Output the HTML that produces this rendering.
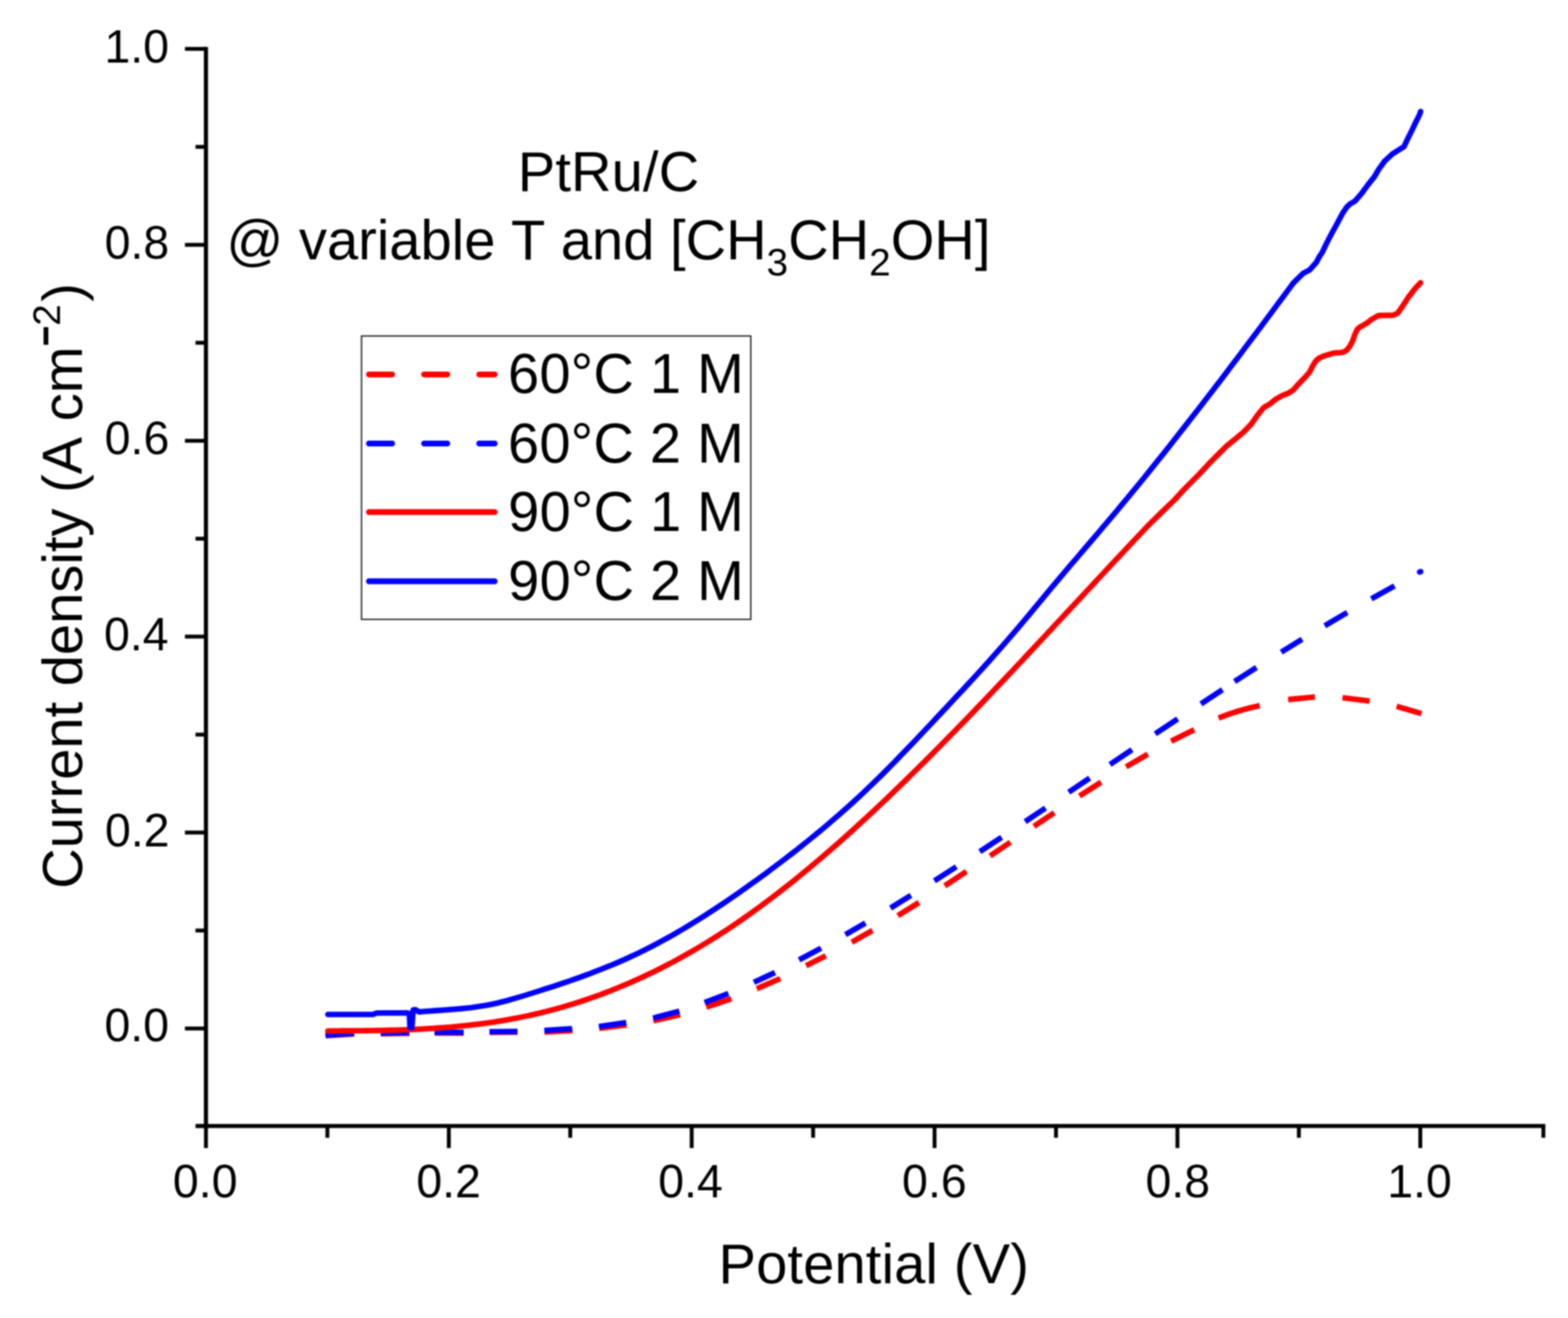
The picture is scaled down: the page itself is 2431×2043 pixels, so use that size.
<!DOCTYPE html>
<html lang="en">
<head>
<meta charset="utf-8">
<title>PtRu/C polarization curves at variable T and ethanol concentration</title>
<style>
html,body{margin:0;padding:0;background:#fff;}
body{width:2431px;height:2043px;overflow:hidden;position:relative;}
svg{display:block;position:absolute;left:0;top:0;filter:blur(0.9px);}
</style>
</head>
<body>
<svg xmlns="http://www.w3.org/2000/svg" width="2431" height="2043" viewBox="0 0 2431 2043">
<rect x="0" y="0" width="2431" height="2043" fill="#ffffff"/>
<g fill="none" stroke-width="8.6" stroke-linejoin="round" stroke-linecap="round">
<path d="M504.9,1605.5 L549.2,1602.7 M590.6,1602.4 L634.9,1601.7 M674.0,1601.2 L719.0,1601.4 M759.0,1600.3 L802.5,1600.0 M844.2,1599.7 L887.8,1597.5 M929.0,1594.0 L971.5,1588.7 M1013.0,1582.3 L1054.5,1572.9 M1095.0,1561.2 L1133.9,1548.2 M1173.3,1532.5 L1209.8,1516.9 M1249.7,1496.9 L1280.3,1481.6 M1320.6,1460.5 L1352.7,1442.3 M1392.0,1419.4 L1424.8,1399.0 M1464.7,1373.2 L1498.4,1350.9 M1535.0,1326.8 L1566.5,1305.5 M1603.0,1280.8 L1634.5,1259.8 M1673.6,1233.8 L1707.1,1212.5 M1745.9,1188.6 L1779.6,1169.0 M1815.7,1148.9 L1851.5,1131.2 M1889.2,1113.1 Q1918.8,1101.0 1953.1,1093.8 M1997.1,1084.4 L2038.7,1080.3 M2081.3,1081.6 L2123.5,1086.7 M2165.3,1094.8 L2203.8,1106.2" stroke="#ff0000" stroke-linecap="butt"/>
<path d="M504.6,1604.8 L549.0,1601.7 M590.1,1601.2 L634.2,1600.5 M673.6,1600.1 L718.7,1600.3 M758.8,1599.3 L802.1,1598.7 M843.9,1597.3 L886.9,1594.6 M928.5,1591.2 L970.9,1585.0 M1012.6,1578.1 L1053.3,1567.3 M1092.4,1553.9 L1129.3,1540.0 M1168.8,1522.7 L1201.5,1507.5 M1238.9,1487.9 L1273.0,1469.8 M1310.7,1448.8 L1341.7,1430.7 M1380.7,1407.5 L1412.3,1387.9 M1448.7,1365.4 L1482.7,1343.5 M1519.1,1320.1 L1552.9,1297.8 M1589.4,1273.6 L1620.9,1252.5 M1656.9,1228.0 L1689.4,1206.1 M1720.9,1185.0 L1755.0,1162.1 M1791.1,1137.5 L1825.9,1114.3 M1861.9,1091.1 L1895.3,1069.2 M1914.1,1056.4 L1948.0,1034.7 M1986.4,1010.9 L2018.8,990.8 M2053.9,970.0 L2088.8,949.4 M2126.1,928.2 L2162.0,908.3" stroke="#0000ff" stroke-linecap="butt"/>
<path d="M2200.9,886.6 L2202.7,886.1" stroke="#0000ff"/>
<path d="M508.3,1598.0 L515.8,1598.0 L523.3,1598.0 L530.9,1597.9 L538.4,1597.9 L545.9,1597.9 L553.4,1597.8 L561.0,1597.7 L568.5,1597.6 L576.0,1597.5 L583.5,1597.4 L591.1,1597.3 L598.6,1597.1 L606.1,1596.9 L613.6,1596.7 L621.2,1596.5 L628.7,1596.2 L636.2,1595.9 L643.7,1595.6 L651.3,1595.2 L658.8,1594.8 L666.3,1594.3 L673.8,1593.9 L681.4,1593.3 L688.9,1592.8 L696.4,1592.2 L703.9,1591.5 L711.5,1590.8 L719.0,1590.0 L726.5,1589.2 L734.0,1588.4 L741.6,1587.5 L749.1,1586.5 L756.6,1585.4 L764.1,1584.4 L771.7,1583.2 L779.2,1582.0 L786.7,1580.7 L794.2,1579.3 L801.8,1577.9 L809.3,1576.4 L816.8,1574.9 L824.3,1573.2 L831.9,1571.5 L839.4,1569.7 L846.9,1567.9 L854.4,1565.9 L862.0,1563.9 L869.5,1561.8 L877.0,1559.6 L884.5,1557.4 L892.1,1555.0 L899.6,1552.6 L907.1,1550.1 L914.6,1547.5 L922.2,1544.9 L929.7,1542.2 L937.2,1539.4 L944.7,1536.5 L952.3,1533.5 L959.8,1530.4 L967.3,1527.3 L974.8,1524.1 L982.4,1520.8 L989.9,1517.4 L997.4,1514.0 L1004.9,1510.4 L1012.5,1506.8 L1020.0,1503.1 L1027.5,1499.3 L1035.0,1495.4 L1042.6,1491.5 L1050.1,1487.4 L1057.6,1483.3 L1065.1,1479.1 L1072.7,1474.8 L1080.2,1470.4 L1087.7,1465.9 L1095.2,1461.4 L1102.8,1456.7 L1110.3,1452.0 L1117.8,1447.2 L1125.3,1442.3 L1132.9,1437.3 L1140.4,1432.2 L1147.9,1427.1 L1155.4,1421.8 L1163.0,1416.5 L1170.5,1411.1 L1178.0,1405.6 L1185.5,1400.0 L1193.1,1394.4 L1200.6,1388.7 L1208.1,1382.9 L1215.6,1377.0 L1223.2,1371.1 L1230.7,1365.1 L1238.2,1359.0 L1245.7,1352.8 L1253.3,1346.6 L1260.8,1340.3 L1268.3,1334.0 L1275.8,1327.6 L1283.4,1321.1 L1290.9,1314.5 L1298.4,1307.9 L1305.9,1301.3 L1313.5,1294.5 L1321.0,1287.8 L1328.5,1280.9 L1336.0,1274.0 L1343.6,1267.1 L1351.1,1260.1 L1358.6,1253.1 L1366.1,1246.0 L1373.7,1238.8 L1381.2,1231.6 L1388.7,1224.4 L1396.2,1217.1 L1403.8,1209.8 L1411.3,1202.4 L1418.8,1195.0 L1426.3,1187.6 L1433.9,1180.1 L1441.4,1172.6 L1448.9,1165.0 L1456.4,1157.4 L1464.0,1149.8 L1471.5,1142.1 L1479.0,1134.4 L1486.5,1126.7 L1494.1,1118.9 L1501.6,1111.2 L1509.1,1103.4 L1516.6,1095.5 L1524.2,1087.7 L1531.7,1079.8 L1539.2,1071.9 L1546.7,1064.0 L1554.3,1056.0 L1561.8,1048.0 L1569.3,1040.1 L1576.8,1032.1 L1584.4,1024.1 L1591.9,1016.0 L1599.4,1008.0 L1606.9,1000.0 L1614.5,991.9 L1622.0,983.8 L1629.5,975.8 L1637.0,967.7 L1644.6,959.6 L1652.1,951.5 L1659.6,943.4 L1667.1,935.3 L1674.7,927.3 L1682.2,919.2 L1689.7,911.1 L1697.2,903.0 L1704.8,894.9 L1712.3,886.8 L1719.8,878.8 L1727.3,870.7 L1734.9,862.7 L1742.4,854.6 L1749.9,846.6 L1757.4,838.6 L1765.0,830.6 L1772.5,822.6 L1780.0,814.7 L1800.4,794.6 L1820.8,775.0 L1831.0,763.8 L1841.2,753.1 L1860.0,734.2 L1873.6,719.6 L1887.2,705.8 L1900.8,692.2 L1914.4,681.1 L1928.0,669.7 L1940.0,657.3 L1949.6,643.6 L1959.3,631.8 L1968.9,626.1 L1978.5,618.4 L1988.2,613.1 L1997.8,609.2 L2005.0,604.6 L2012.3,596.2 L2021.9,586.3 L2030.0,577.4 L2034.8,568.0 L2039.6,560.0 L2044.5,555.5 L2051.7,552.1 L2058.9,549.9 L2068.5,547.0 L2078.2,546.6 L2083.0,545.8 L2087.8,542.9 L2092.6,536.9 L2097.0,528.7 L2100.3,519.1 L2104.2,510.5 L2108.0,507.3 L2114.3,503.7 L2120.0,500.3 L2127.1,494.7 L2137.3,489.1 L2159.8,488.6 L2166.9,485.5 L2174.1,475.3 L2183.3,461.0 L2193.5,447.8 L2202.5,438.3" stroke="#ff0000"/>
<path d="M508.3,1572.5 L578.0,1572.5 L584.0,1570.2 L631.5,1570.0 L634.6,1571.0 L635.6,1592.6 L638.6,1592.6 L640.6,1565.5 L644.0,1565.0 L650.0,1568.6 L658.0,1567.8 L666.0,1567.2 L674.1,1566.6 L682.1,1566.1 L690.1,1565.5 L698.1,1564.9 L706.1,1564.3 L714.1,1563.6 L722.2,1562.8 L730.2,1561.9 L738.2,1560.8 L746.2,1559.6 L754.2,1558.3 L762.2,1556.7 L770.3,1555.0 L778.3,1553.0 L786.3,1551.0 L794.3,1548.7 L802.3,1546.4 L810.4,1544.0 L818.4,1541.5 L826.4,1539.0 L834.4,1536.5 L842.4,1533.9 L850.4,1531.4 L858.5,1528.8 L866.5,1526.1 L874.5,1523.4 L882.5,1520.7 L890.5,1517.9 L898.6,1515.1 L906.6,1512.1 L914.6,1509.2 L922.6,1506.1 L930.6,1503.0 L938.6,1499.8 L946.7,1496.6 L954.7,1493.2 L962.7,1489.7 L970.7,1486.2 L978.7,1482.5 L986.7,1478.8 L994.8,1474.9 L1002.8,1470.9 L1010.8,1466.8 L1018.8,1462.6 L1026.8,1458.3 L1034.9,1453.9 L1042.9,1449.4 L1050.9,1444.8 L1058.9,1440.1 L1066.9,1435.3 L1074.9,1430.4 L1083.0,1425.4 L1091.0,1420.3 L1099.0,1415.2 L1107.0,1409.9 L1115.0,1404.6 L1123.0,1399.3 L1131.1,1393.8 L1139.1,1388.3 L1147.1,1382.7 L1155.1,1377.0 L1163.1,1371.3 L1171.2,1365.6 L1179.2,1359.7 L1187.2,1353.9 L1195.2,1347.9 L1203.2,1341.9 L1211.2,1335.9 L1219.3,1329.7 L1227.3,1323.5 L1235.3,1317.3 L1243.3,1310.9 L1251.3,1304.5 L1259.3,1298.0 L1267.4,1291.4 L1275.4,1284.8 L1283.4,1278.0 L1291.4,1271.1 L1299.4,1264.2 L1307.5,1257.1 L1315.5,1250.0 L1323.5,1242.7 L1331.5,1235.3 L1339.5,1227.8 L1347.5,1220.2 L1355.6,1212.4 L1363.6,1204.6 L1371.6,1196.6 L1379.6,1188.5 L1387.6,1180.4 L1395.7,1172.1 L1403.7,1163.8 L1411.7,1155.5 L1419.7,1147.1 L1427.7,1138.6 L1435.7,1130.1 L1443.8,1121.6 L1451.8,1113.0 L1459.8,1104.5 L1467.8,1096.0 L1475.8,1087.4 L1483.8,1078.8 L1491.9,1070.2 L1499.9,1061.5 L1507.9,1052.8 L1515.9,1044.1 L1523.9,1035.3 L1532.0,1026.4 L1540.0,1017.4 L1548.0,1008.4 L1556.0,999.2 L1564.0,990.0 L1572.0,980.7 L1580.1,971.3 L1588.1,961.8 L1596.1,952.2 L1604.1,942.6 L1612.1,932.9 L1620.1,923.2 L1628.2,913.6 L1636.2,904.0 L1644.2,894.5 L1652.2,885.0 L1660.2,875.5 L1668.3,866.2 L1676.3,856.8 L1684.3,847.4 L1692.3,838.1 L1700.3,828.7 L1708.3,819.3 L1716.4,809.8 L1724.4,800.3 L1732.4,790.8 L1740.4,781.1 L1748.4,771.4 L1756.4,761.7 L1764.5,751.9 L1772.5,742.1 L1780.5,732.2 L1788.5,722.2 L1796.5,712.2 L1804.6,702.2 L1812.6,692.1 L1820.6,681.9 L1828.6,671.7 L1836.6,661.5 L1844.6,651.2 L1852.7,640.9 L1860.7,630.6 L1868.7,620.2 L1876.7,609.8 L1884.7,599.3 L1892.8,588.8 L1900.8,578.3 L1908.8,567.7 L1916.8,557.1 L1924.8,546.5 L1932.8,535.8 L1940.9,525.2 L1948.9,514.5 L1956.9,503.7 L1964.9,493.0 L1972.9,482.2 L1980.9,471.4 L1989.0,460.6 L1997.0,449.7 L2005.0,438.9 L2020.3,423.7 L2030.5,418.4 L2040.7,406.9 L2045.8,397.4 L2050.2,390.8 L2055.0,380.6 L2060.1,370.4 L2065.5,360.2 L2071.2,350.0 L2081.0,331.4 L2087.9,321.2 L2093.2,316.1 L2100.6,311.8 L2110.8,300.1 L2121.0,286.3 L2131.2,273.5 L2137.5,262.5 L2146.9,249.6 L2158.8,238.6 L2170.7,231.1 L2176.7,227.3 L2183.2,213.6 L2189.2,201.7 L2194.8,189.8 L2200.8,177.9 L2202.5,172.8" stroke="#0000ff"/>
</g>
<g stroke="#000" stroke-width="6.4" fill="none" stroke-linecap="butt">
<line x1="319.3" y1="72.80" x2="319.3" y2="1748.60"/>
<line x1="316.10" y1="1745.4" x2="2395.80" y2="1745.4"/>
</g>
<g stroke="#000" stroke-width="6.0" fill="none" stroke-linecap="butt">
<line x1="286.70" y1="1594.20" x2="319.30" y2="1594.20"/>
<line x1="303.10" y1="1442.36" x2="319.30" y2="1442.36"/>
<line x1="286.70" y1="1290.52" x2="319.30" y2="1290.52"/>
<line x1="303.10" y1="1138.68" x2="319.30" y2="1138.68"/>
<line x1="286.70" y1="986.84" x2="319.30" y2="986.84"/>
<line x1="303.10" y1="835.00" x2="319.30" y2="835.00"/>
<line x1="286.70" y1="683.16" x2="319.30" y2="683.16"/>
<line x1="303.10" y1="531.32" x2="319.30" y2="531.32"/>
<line x1="286.70" y1="379.48" x2="319.30" y2="379.48"/>
<line x1="303.10" y1="227.64" x2="319.30" y2="227.64"/>
<line x1="286.70" y1="75.80" x2="319.30" y2="75.80"/>
<line x1="303.10" y1="1745.40" x2="319.30" y2="1745.40" stroke-width="6.4"/>
<line x1="319.30" y1="1745.40" x2="319.30" y2="1779.60"/>
<line x1="507.57" y1="1745.40" x2="507.57" y2="1763.60"/>
<line x1="695.84" y1="1745.40" x2="695.84" y2="1779.60"/>
<line x1="884.11" y1="1745.40" x2="884.11" y2="1763.60"/>
<line x1="1072.38" y1="1745.40" x2="1072.38" y2="1779.60"/>
<line x1="1260.65" y1="1745.40" x2="1260.65" y2="1763.60"/>
<line x1="1448.92" y1="1745.40" x2="1448.92" y2="1779.60"/>
<line x1="1637.19" y1="1745.40" x2="1637.19" y2="1763.60"/>
<line x1="1825.46" y1="1745.40" x2="1825.46" y2="1779.60"/>
<line x1="2013.73" y1="1745.40" x2="2013.73" y2="1763.60"/>
<line x1="2202.00" y1="1745.40" x2="2202.00" y2="1779.60"/>
<line x1="2392.80" y1="1745.40" x2="2392.80" y2="1763.60"/>
</g>
<rect x="560.5" y="520.8" width="603.50" height="439.30" fill="#fff" stroke="#1a1a1a" stroke-width="2.0"/>
<g fill="none" stroke-width="9.0" stroke-linecap="round">
<line x1="572" y1="580.4" x2="608" y2="580.4" stroke="#ff0000"/>
<line x1="657.5" y1="580.4" x2="693.5" y2="580.4" stroke="#ff0000"/>
<line x1="743" y1="580.4" x2="767" y2="580.4" stroke="#ff0000"/>
<line x1="572" y1="687.5" x2="608" y2="687.5" stroke="#0000ff"/>
<line x1="657.5" y1="687.5" x2="693.5" y2="687.5" stroke="#0000ff"/>
<line x1="743" y1="687.5" x2="767" y2="687.5" stroke="#0000ff"/>
<line x1="572" y1="793.8" x2="767" y2="793.8" stroke="#ff0000"/>
<line x1="572" y1="901" x2="767" y2="901" stroke="#0000ff"/>
</g>
<g font-family="'Liberation Sans', Arial, Helvetica, sans-serif" fill="#000" style="font-kerning:none">
<text x="802.74" y="296.30" font-size="87" letter-spacing="0.165" xml:space="preserve">PtRu/C</text>
<text x="350.99" y="402.10" font-size="87" letter-spacing="-0.011" xml:space="preserve">@ variable T and [CH<tspan font-size="60" dy="25">3</tspan><tspan dy="-25">CH</tspan><tspan font-size="60" dy="25">2</tspan><tspan dy="-25">OH]</tspan></text>
<text x="1113.94" y="1988.80" font-size="87" letter-spacing="0.204" xml:space="preserve">Potential (V)</text>
<text transform="translate(127.30,1377.85) rotate(-90)" font-size="87" letter-spacing="0" xml:space="preserve"><tspan letter-spacing="-0.021">Current density (A cm</tspan><tspan x="842.95" dy="-40.64" font-size="48" stroke="#000" stroke-width="4">−</tspan><tspan x="872.85" dy="6.04" font-size="60">2</tspan><tspan x="910.10" dy="34.60">)</tspan></text>
<text x="787.45" y="609.30" font-size="87" letter-spacing="0.317" xml:space="preserve">60°C 1 M</text>
<text x="787.45" y="717.00" font-size="87" letter-spacing="0.317" xml:space="preserve">60°C 2 M</text>
<text x="787.79" y="822.70" font-size="87" letter-spacing="0.27" xml:space="preserve">90°C 1 M</text>
<text x="787.79" y="929.60" font-size="87" letter-spacing="0.27" xml:space="preserve">90°C 2 M</text>
<text x="161.94" y="1613.50" font-size="72" letter-spacing="0" xml:space="preserve">0.0</text>
<text x="162.72" y="1311.72" font-size="72" letter-spacing="0" xml:space="preserve">0.2</text>
<text x="161.22" y="1008.14" font-size="72" letter-spacing="0" xml:space="preserve">0.4</text>
<text x="162.33" y="704.46" font-size="72" letter-spacing="0" xml:space="preserve">0.6</text>
<text x="162.29" y="400.78" font-size="72" letter-spacing="0" xml:space="preserve">0.8</text>
<text x="161.94" y="97.30" font-size="72" letter-spacing="0" xml:space="preserve">1.0</text>
<text x="268.08" y="1855.80" font-size="72" letter-spacing="0" xml:space="preserve">0.0</text>
<text x="645.52" y="1855.80" font-size="72" letter-spacing="0" xml:space="preserve">0.2</text>
<text x="1020.51" y="1855.80" font-size="72" letter-spacing="0" xml:space="preserve">0.4</text>
<text x="1398.60" y="1855.80" font-size="72" letter-spacing="0" xml:space="preserve">0.6</text>
<text x="1775.92" y="1855.80" font-size="72" letter-spacing="0" xml:space="preserve">0.8</text>
<text x="2150.65" y="1855.80" font-size="72" letter-spacing="0" xml:space="preserve">1.0</text>
</g>
</svg>
</body>
</html>
